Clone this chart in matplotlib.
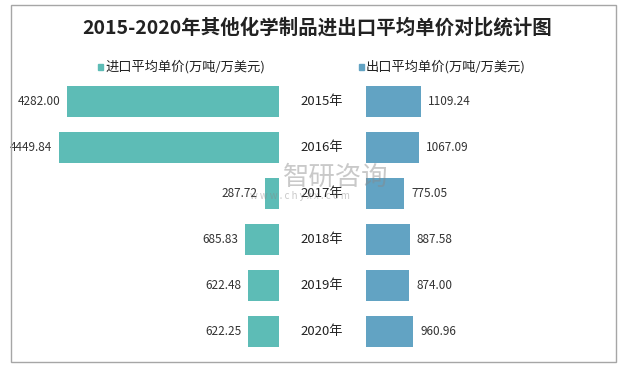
import matplotlib.pyplot as plt
from matplotlib.patches import Rectangle
from matplotlib.transforms import blended_transform_factory

plt.rcParams['font.family'] = ['Noto Sans CJK SC', 'DejaVu Sans']

# %% Data
years = ['2015年', '2016年', '2017年', '2018年', '2019年', '2020年']
import_price = [4282.00, 4449.84, 287.72, 685.83, 622.48, 622.25]
export_price = [1109.24, 1067.09, 775.05, 887.58, 874.00, 960.96]
import_label = '进口平均单价(万吨/万美元)'
export_label = '出口平均单价(万吨/万美元)'
title = '2015-2020年其他化学制品进出口平均单价对比统计图'

c_imp = '#5DBCB6'
c_exp = '#62A3C3'

# %% Figure
W, H = 634, 370
fig = plt.figure(figsize=(W / 100, H / 100), dpi=100)

def fx(px):
    return px / W

def fy(py):
    return 1 - py / H

scale = 0.0494  # px per unit
ybot, ytop = 355, 78
axL = fig.add_axes([fx(20), fy(ybot), fx(279 - 20), fy(ytop) - fy(ybot)])
axR = fig.add_axes([fx(366), fy(ybot), fx(600 - 366), fy(ytop) - fy(ybot)])

pos = list(range(len(years)))
axL.barh(pos, import_price, height=0.67, color=c_imp)
axR.barh(pos, export_price, height=0.67, color=c_exp)

axL.set_xlim(259 / scale, 0)
axR.set_xlim(0, 234 / scale)
for ax in (axL, axR):
    ax.set_ylim(len(years) - 0.5, -0.5)
    ax.axis('off')

for i, v in enumerate(import_price):
    axL.annotate(f'{v:.2f}', (v, i), xytext=(-5, 0), textcoords='offset points',
                 ha='right', va='center', fontsize=8.5, color='#333333')
for i, v in enumerate(export_price):
    axR.annotate(f'{v:.2f}', (v, i), xytext=(5, 0), textcoords='offset points',
                 ha='left', va='center', fontsize=8.5, color='#333333')

tr = blended_transform_factory(fig.transFigure, axL.transData)
for i, y in enumerate(years):
    axL.text(fx(322), i, y, transform=tr, ha='center', va='center',
             fontsize=9.5, color='#222222', clip_on=False)

# title + legend
fig.text(fx(317), fy(28), title, ha='center', va='center', fontsize=14,
         fontweight='bold', color='#222222')
fig.patches.append(Rectangle((fx(98), fy(70)), fx(5), fy(64) - fy(70) + 0.0, color=c_imp,
                             transform=fig.transFigure))
fig.text(fx(105), fy(67), import_label, ha='left', va='center', fontsize=9.5, color='#222222')
fig.patches.append(Rectangle((fx(359), fy(70)), fx(5), fy(64) - fy(70) + 0.0, color=c_exp,
                             transform=fig.transFigure))
fig.text(fx(366), fy(67), export_label, ha='left', va='center', fontsize=9.5, color='#222222')

# watermark
fig.text(fx(283), fy(177), '智研咨询', ha='left', va='center', fontsize=19,
         color='#888888', alpha=0.45)
fig.text(fx(250), fy(196), 'w w w . c h y x x . c o m', ha='left', va='center',
         fontsize=7, color='#888888', alpha=0.45)

# frame
fig.patches.append(Rectangle((fx(11), fy(362)), fx(616 - 11), fy(5) - fy(362),
                             fill=False, edgecolor='#A6A6A6', linewidth=1,
                             transform=fig.transFigure))

fig.savefig('out.png', dpi=100)
